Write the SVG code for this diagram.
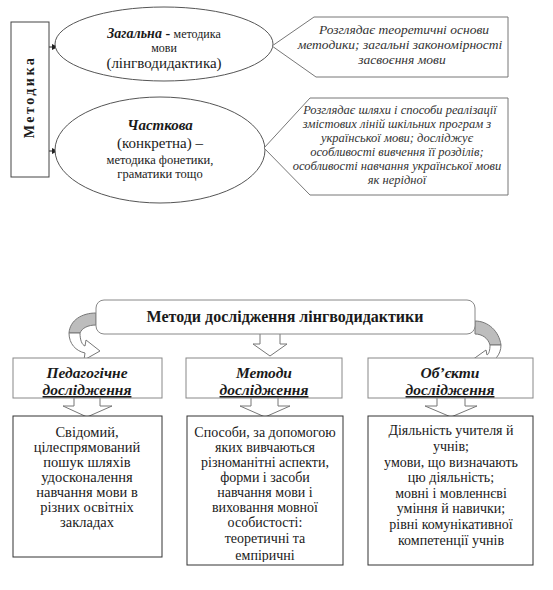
<svg xmlns="http://www.w3.org/2000/svg" width="553" height="590" viewBox="0 0 553 590">
<style>
text{font-family:"Liberation Serif","Times New Roman",serif;fill:#1a1a1a;text-anchor:middle}
.it{font-style:italic;fill:#333}
.bi{font-weight:bold;font-style:italic}
.b{font-weight:bold}
.ell{fill:#fff;stroke:#555;stroke-width:1}
.call{fill:#fff;stroke:#777;stroke-width:1}
.tbox{fill:#fff;stroke:#888;stroke-width:1}
.lbox{fill:#fff;stroke:#333;stroke-width:1}
.blk{fill:#fff;stroke:#777;stroke-width:1}
.conn{stroke:#222;stroke-width:1;fill:none}
.gray{fill:#bdbdbd;stroke:#777;stroke-width:1}
</style>
<defs>
<marker id="ah" markerWidth="6" markerHeight="6" refX="5" refY="3" orient="auto" markerUnits="userSpaceOnUse">
<path d="M0,0 L6,3 L0,6 Z" fill="#222"/>
</marker>
<clipPath id="clipB"><rect x="187" y="416" width="156" height="146"/></clipPath>
</defs>
<rect width="553" height="590" fill="#fff"/>

<g id="connectors">
<line class="conn" x1="49" y1="47" x2="57" y2="47" marker-end="url(#ah)"/>
<line class="conn" x1="49" y1="151" x2="57" y2="151" marker-end="url(#ah)"/>
<path id="arrow-mid" class="blk" d="M260,334 L260,344 L253,344 L270,356 L287,344 L280,344 L280,334"/>
<path id="arrow-left-back" class="gray" d="M96,313 C82,313 70,320 69,333 L80,333 C82,328 88,325 96,325 Z"/>
<path id="arrow-left" class="blk" d="M69,333 C69,344 76,351 85,353 L84,360 L100,351 L86,340 L85,346 C82,345 80,340 80,333 Z"/>
<path id="arrow-right-back" class="gray" d="M475,321 C488,321 499,331 501,345 L490,345 C488,338 482,334 475,334 Z"/>
<path id="arrow-right" class="blk" d="M501,345 C501,355 494,362 487,363 L488,369 L472,360 L486,350 L487,355 C489,354 490,350 490,345 Z"/>
<path id="arrow-a" class="blk" d="M74,398 L74,406 L63,406 L87,417 L112,406 L100,406 L100,398"/>
<path id="arrow-b" class="blk" d="M251,398 L251,406 L240,406 L265,417 L290,406 L278,406 L278,398"/>
<path id="arrow-c" class="blk" d="M437,398 L437,406 L425,406 L451,417 L477,406 L465,406 L465,398"/>
</g>

<g id="metodyka">
<rect x="11" y="22" width="38" height="155" fill="#fff" stroke="#444"/>
<text class="b" x="0" y="0" font-size="14" letter-spacing="2.5" transform="translate(34,97) rotate(-90)">Методика</text>
</g>

<g id="zagalna">
<ellipse class="ell" cx="164" cy="44" rx="109" ry="37"/>
<text x="164" y="38"><tspan class="bi" font-size="14">Загальна</tspan><tspan font-size="14" font-weight="bold"> - </tspan><tspan font-size="12">методика</tspan></text>
<text x="164" y="52" font-size="12">мови</text>
<text x="164" y="68" font-size="15">(лінгводидактика)</text>
</g>

<g id="chastkova">
<ellipse class="ell" cx="160" cy="150" rx="105" ry="53"/>
<text class="bi" x="160" y="130" font-size="15">Часткова</text>
<text x="160" y="148" font-size="15">(конкретна) –</text>
<text x="160" y="164" font-size="12.5">методика фонетики,</text>
<text x="160" y="178" font-size="12.5">граматики тощо</text>
</g>

<g id="callout-1">
<path class="call" d="M272,46 L314,17 L508,17 L508,77 L316,77 Z"/>
<text class="it" x="404" y="34" font-size="13.5">Розглядає теоретичні основи</text>
<text class="it" x="400" y="49" font-size="13.5">методики; загальні закономірності</text>
<text class="it" x="402" y="64" font-size="13.5">засвоєння мови</text>
</g>

<g id="callout-2">
<path class="call" d="M264,148 L310,98 L508,98 L508,195 L310,195 Z"/>
<text class="it" x="400" y="114" font-size="12.5">Розглядає шляхи і способи реалізації</text>
<text class="it" x="397" y="128" font-size="12.5">змістових  ліній шкільних програм з</text>
<text class="it" x="397" y="142" font-size="12.5">української мови; досліджує</text>
<text class="it" x="397" y="156" font-size="12.5">особливості вивчення її розділів;</text>
<text class="it" x="397" y="170" font-size="12.5">особливості навчання української мови</text>
<text class="it" x="397" y="184" font-size="12.5">як нерідної</text>
</g>

<g id="header">
<rect x="96" y="300" width="379" height="34" rx="8" ry="8" fill="#fff" stroke="#888"/>
<text class="b" x="285" y="322" font-size="16">Методи дослідження лінгводидактики</text>
</g>

<g id="title-a">
<rect class="tbox" x="13" y="358" width="149" height="40"/>
<text class="bi" x="87" y="378" font-size="15.5">Педагогічне</text>
<text class="bi" x="87" y="395" font-size="15.5" text-decoration="underline">дослідження</text>
</g>
<g id="title-b">
<rect class="tbox" x="186" y="358" width="156" height="40"/>
<text class="bi" x="264" y="378" font-size="15.5">Методи</text>
<text class="bi" x="264" y="395" font-size="15.5" text-decoration="underline">дослідження</text>
</g>
<g id="title-c">
<rect class="tbox" x="368" y="358" width="165" height="40"/>
<text class="bi" x="450" y="378" font-size="15.5">Об’єкти</text>
<text class="bi" x="450" y="395" font-size="15.5" text-decoration="underline">дослідження</text>
</g>

<g id="box-a">
<rect class="lbox" x="13" y="416" width="149" height="141"/>
<text x="87" y="437" font-size="14.5">Свідомий,</text>
<text x="87" y="452" font-size="14.5">цілеспрямований</text>
<text x="87" y="467" font-size="14.5">пошук шляхів</text>
<text x="87" y="482" font-size="14.5">удосконалення</text>
<text x="87" y="497" font-size="14.5">навчання мови в</text>
<text x="87" y="512" font-size="14.5">різних освітніх</text>
<text x="87" y="527" font-size="14.5">закладах</text>
</g>

<g id="box-b">
<rect class="lbox" x="187" y="416" width="156" height="149"/>
<g clip-path="url(#clipB)">
<text x="265" y="437" font-size="14">Способи, за допомогою</text>
<text x="265" y="452" font-size="14">яких вивчаються</text>
<text x="265" y="467" font-size="14">різноманітні аспекти,</text>
<text x="265" y="482" font-size="14">форми і засоби</text>
<text x="265" y="497" font-size="14">навчання мови і</text>
<text x="265" y="512" font-size="14">виховання мовної</text>
<text x="265" y="527" font-size="14">особистості:</text>
<text x="265" y="543" font-size="14">теоретичні та</text>
<text x="265" y="560" font-size="14">емпіричні</text>
</g>
</g>

<g id="box-c">
<rect class="lbox" x="368" y="416" width="165" height="149"/>
<text x="451" y="435" font-size="14">Діяльність учителя й</text>
<text x="451" y="451" font-size="14">учнів;</text>
<text x="451" y="467" font-size="14">умови, що визначають</text>
<text x="451" y="482" font-size="14">цю діяльність;</text>
<text x="451" y="498" font-size="14">мовні і мовленнєві</text>
<text x="451" y="513" font-size="14">уміння й навички;</text>
<text x="451" y="529" font-size="14">рівні комунікативної</text>
<text x="451" y="545" font-size="14">компетенції учнів</text>
</g>
</svg>
